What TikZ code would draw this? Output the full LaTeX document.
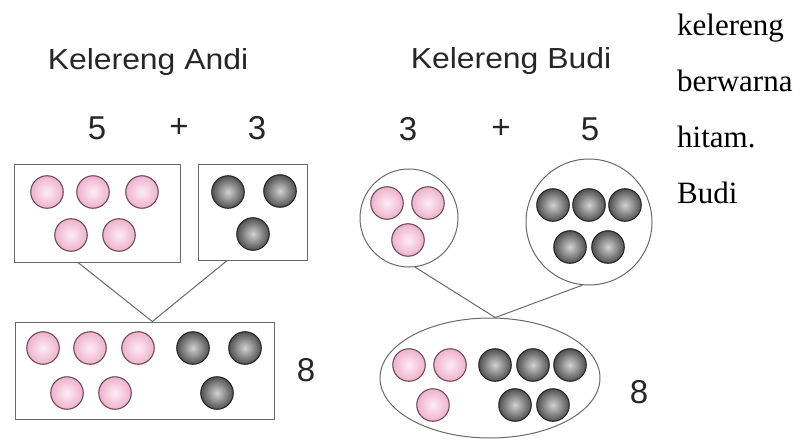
\documentclass[tikz,border=0pt]{standalone}
\usepackage{fontspec}
\setmainfont{Liberation Serif}
\newfontfamily\arialw[FakeStretch=1.1]{Liberation Sans}
\newfontfamily\arialn{Liberation Sans}
\usetikzlibrary{calc,shapes.geometric}
\definecolor{pinkin}{RGB}{253,236,244}
\definecolor{pinkout}{RGB}{238,178,204}
\definecolor{pinkedge}{RGB}{110,75,90}
\definecolor{darkin}{RGB}{210,210,210}
\definecolor{darkout}{RGB}{80,80,80}
\definecolor{darkedge}{RGB}{40,40,40}
\definecolor{frame}{RGB}{105,105,105}
\begin{document}
\begin{tikzpicture}[x=1pt,y=-1pt,
  pinkball/.style={circle,draw=pinkedge,line width=1.1pt,inner color=pinkin,outer color=pinkout,minimum size=32.5pt,inner sep=0pt},
  darkball/.style={circle,draw=darkedge,line width=1.1pt,inner color=darkin,outer color=darkout,minimum size=32.5pt,inner sep=0pt},
  groupbox/.style={rectangle,draw=frame,line width=1pt,inner sep=0pt},
  groupcirc/.style={circle,draw=frame,line width=1pt,inner sep=0pt},
  link/.style={draw=frame,line width=1pt},
  title/.style={font=\fontsize{29}{32}\selectfont\arialw,text=black!85},
  num/.style={font=\fontsize{33}{35}\selectfont\arialn,text=black!85},
  side/.style={font=\fontsize{31}{34}\selectfont,anchor=base west,inner sep=0pt}]
\useasboundingbox (0,0) rectangle (803,441);

% titles and numbers
\node[title] (tA) at (148,62) {Kelereng Andi};
\node[title] (tB) at (511,61) {Kelereng Budi};
\node[num] (nA1) at (97,128) {5};
\node[num] (nA2) at (179,128) {+};
\node[num] (nA3) at (257,128) {3};
\node[num] (nB1) at (408,129) {3};
\node[num] (nB2) at (501,129) {+};
\node[num] (nB3) at (590,129) {5};

% Andi groups
\node[groupbox,minimum width=166pt,minimum height=98pt] (A) at (97,213) {};
\node[groupbox,minimum width=109pt,minimum height=96pt] (B) at (252.5,212) {};
\node[groupbox,minimum width=259pt,minimum height=97pt] (C) at (144.5,370.5) {};
\node[num] (nC) at (306,370) {8};

\draw[link] ($(A.south west)!0.386!(A.south east)$) coordinate (a1)
  -- ($(C.north west)!0.53!(C.north east)$) coordinate (c1)
  -- ($(B.south west)!0.27!(B.south east)$) coordinate (b1);

\node[pinkball] (pa1) at (47,192) {};
\node[pinkball] (pa2) at (93,192) {};
\node[pinkball] (pa3) at (142,192) {};
\node[pinkball] (pa4) at (71,235) {};
\node[pinkball] (pa5) at (119,235) {};
\node[darkball] (da1) at (228,192) {};
\node[darkball] (da2) at (280,191) {};
\node[darkball] (da3) at (253,234) {};

\node[pinkball] (pc1) at (43,348) {};
\node[pinkball] (pc2) at (90,348) {};
\node[pinkball] (pc3) at (138,348) {};
\node[pinkball] (pc4) at (67,393) {};
\node[pinkball] (pc5) at (115,393) {};
\node[darkball] (dc1) at (193,348) {};
\node[darkball] (dc2) at (245,348) {};
\node[darkball] (dc3) at (217,393) {};

% Budi groups
\node[groupcirc,minimum size=98pt] (D) at (409,218) {};
\node[groupcirc,minimum size=126pt] (E) at (589,222) {};
\node[ellipse,draw=frame,line width=1pt,inner sep=0pt,minimum width=220pt,minimum height=120pt] (F) at (490,378) {};
\node[num] (nF) at (639,392) {8};

\draw[link] (D.277) -- (F.85) -- (E.264);

\node[pinkball] (pd1) at (387,203) {};
\node[pinkball] (pd2) at (428,203) {};
\node[pinkball] (pd3) at (408,240) {};
\node[darkball] (de1) at (553,205) {};
\node[darkball] (de2) at (589,205) {};
\node[darkball] (de3) at (625,205) {};
\node[darkball] (de4) at (570,247) {};
\node[darkball] (de5) at (608,247) {};

\node[pinkball] (pf1) at (409,365) {};
\node[pinkball] (pf2) at (450,365) {};
\node[pinkball] (pf3) at (433,405) {};
\node[darkball] (df1) at (495,365) {};
\node[darkball] (df2) at (533,365) {};
\node[darkball] (df3) at (570,365) {};
\node[darkball] (df4) at (515,405) {};
\node[darkball] (df5) at (553,405) {};

% side text
\node[side] (s1) at (677,36) {kelereng};
\node[side] (s2) at (677,92) {berwarna};
\node[side] (s3) at (677,148) {hitam.};
\node[side] (s4) at (677,203) {Budi};
\end{tikzpicture}
\end{document}
